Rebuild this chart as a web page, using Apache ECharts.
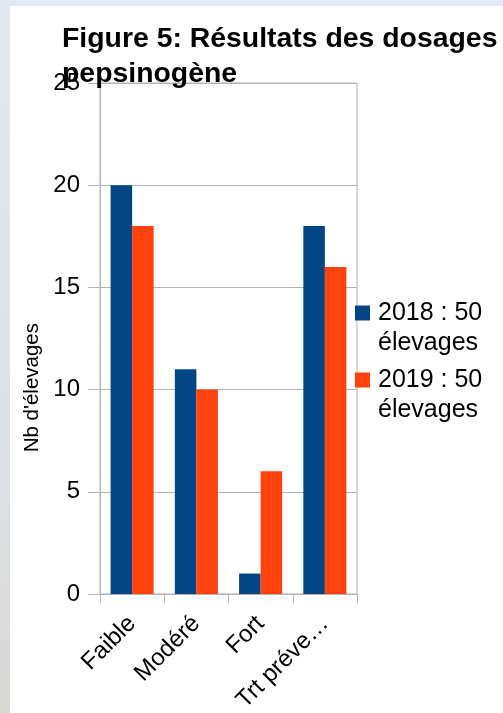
<!DOCTYPE html>
<html>
<head>
<meta charset="utf-8">
<script src="https://cdn.jsdelivr.net/npm/echarts@6/dist/echarts.min.js"></script>
<style>
html,body{margin:0;padding:0;width:503px;height:713px;overflow:hidden;}
body{background:linear-gradient(180deg,#e3e9f4 0%,#dde3ec 50%,#d9d9d4 100%);}
#panel{position:absolute;left:10px;top:6px;width:493px;height:707px;background:#ffffff;}
#chart{position:absolute;left:0;top:0;width:503px;height:713px;}
</style>
</head>
<body>
<div id="panel"></div>
<div id="chart"></div>
<script>
const titleText = 'Figure 5: Résultats des dosages\npepsinogène';
const categories = ['Faible', 'Modéré', 'Fort', 'Trt préve…'];
const seriesNames = ['2018 : 50\nélevages', '2019 : 50\nélevages'];
const values2018 = [20, 11, 1, 18];
const values2019 = [18, 10, 6, 16];
const yAxisName = "Nb d'élevages";

const chart = echarts.init(document.getElementById('chart'), null, {renderer: 'canvas'});
const font = 'Liberation Sans, Arial, sans-serif';
chart.setOption({
  backgroundColor: 'transparent',
  animation: false,
  title: {
    text: titleText,
    left: 62, top: 22, padding: 0,
    textStyle: {fontFamily: font, fontSize: 28.4, fontWeight: 'bold', color: '#000', lineHeight: 35}
  },
  legend: {
    orient: 'vertical',
    left: 355, top: 268, padding: 0,
    itemWidth: 15, itemHeight: 15, itemGap: -23,
    icon: 'rect',
    formatter: function (name) { return '\n' + name; },
    textStyle: {fontFamily: font, fontSize: 25, color: '#000', lineHeight: 30, padding: [0, 0, 0, 3]},
    data: seriesNames
  },
  grid: {
    left: 100, right: 146, top: 83, bottom: 119,
    containLabel: false, outerBoundsMode: 'none',
    show: true, borderColor: '#b3b3b3', borderWidth: 1, backgroundColor: 'transparent'
  },
  xAxis: {
    type: 'category',
    data: categories,
    axisLine: {lineStyle: {color: '#b3b3b3', width: 1}},
    axisTick: {show: true, length: 9, lineStyle: {color: '#b3b3b3'}},
    axisLabel: {rotate: 45, fontFamily: font, fontSize: 24, color: '#000', margin: 26, interval: 0}
  },
  yAxis: {
    type: 'value',
    min: 0, max: 25, interval: 5,
    axisLine: {show: true, lineStyle: {color: '#b3b3b3', width: 1}},
    axisTick: {show: true, length: 12, lineStyle: {color: '#b3b3b3'}},
    splitLine: {show: true, lineStyle: {color: '#b3b3b3', width: 1}},
    axisLabel: {fontFamily: font, fontSize: 24, color: '#000', margin: 20}
  },
  graphic: [{
    type: 'text',
    left: 22, top: 323,
    rotation: Math.PI / 2,
    style: {text: yAxisName, fontFamily: font, fontSize: 20.5, fill: '#000'}
  }],
  series: [
    {name: seriesNames[0], type: 'bar', data: values2018, barGap: '0%', barCategoryGap: '33%', itemStyle: {color: '#004586'}},
    {name: seriesNames[1], type: 'bar', data: values2019, barGap: '0%', barCategoryGap: '33%', itemStyle: {color: '#ff420e'}}
  ]
});
</script>
</body>
</html>
